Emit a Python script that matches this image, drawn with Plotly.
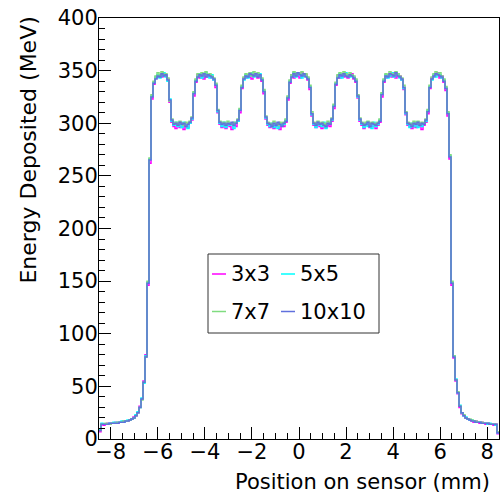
import numpy as np
import plotly.graph_objects as go

# Histogram binning: 200 bins from -8.5 to 8.5 mm
x_min, x_max, n_bins = -8.5, 8.5, 200

series_names = ["3x3", "5x5", "7x7", "10x10"]
series_colors = ["#ff00ff", "#00ffff", "#80dc80", "#6070dd"]

e_3x3 = [
    7, 14, 13, 14, 15, 14, 15, 15, 16, 15, 16, 16, 17, 17, 17, 18, 19, 21, 22, 25, 31, 38, 55, 80, 146, 262, 323, 337,
    343, 344, 346, 344, 347, 345, 342,
    320, 301,
    297, 295, 299, 296, 300, 294, 298, 296, 300, 303,
    326, 339,
    346, 343, 345, 342, 347, 344, 346, 343, 341,
    334, 310,
    299, 296, 298, 295, 299, 297, 294, 298, 297, 302,
    310, 333, 343,
    343, 346, 344, 342, 347, 345, 343, 345, 340,
    328, 304,
    298, 296, 299, 295, 297, 299, 294, 298, 297, 301,
    322, 338,
    346, 343, 347, 345, 343, 348, 345, 346, 341,
    332, 307,
    298, 296, 299, 297, 295, 299, 296, 298, 297, 302,
    314, 336,
    345, 343, 347, 344, 346, 343, 345, 347, 342, 339,
    324, 302,
    298, 295, 298, 299, 296, 297, 300, 295, 298, 301,
    325, 339,
    343, 346, 345, 344, 348, 343, 346, 345, 341,
    332, 308,
    298, 297, 295, 298, 296, 299, 297, 294, 298, 301,
    309, 333, 343,
    344, 346, 348, 343, 345,
    339, 331, 307, 266, 146, 77, 55, 43, 30, 24, 22, 20, 19, 18, 17, 16, 17, 16, 15, 16, 15, 14, 15, 14, 14, 13, 14, 5,
]

e_5x5 = [
    9, 15, 14, 14, 14, 15, 15, 16, 15, 16, 16, 17, 16, 17, 18, 18, 19, 20, 23, 26, 30, 39, 53, 79, 149, 266, 326, 339,
    344, 346, 343, 345, 348, 344, 340,
    323, 302,
    298, 301, 297, 299, 296, 301, 298, 295, 300, 304,
    329, 341,
    345, 347, 343, 346, 348, 345, 343, 346, 341,
    337, 311,
    300, 297, 301, 296, 299, 298, 300, 295, 301, 302,
    313, 335, 341,
    346, 343, 345, 348, 344, 346, 345, 347, 342,
    331, 305,
    299, 297, 300, 296, 299, 295, 300, 298, 299, 303,
    325, 340,
    345, 348, 344, 346, 347, 343, 346, 345, 343,
    335, 308,
    299, 296, 300, 298, 297, 301, 295, 299, 300, 303,
    317, 338,
    344, 347, 343, 346, 348, 345, 344, 346, 344, 341,
    325, 303,
    299, 296, 300, 297, 299, 295, 301, 297, 299, 303,
    328, 341,
    346, 343, 345, 348, 344, 346, 347, 343, 341,
    333, 309,
    299, 296, 300, 297, 301, 296, 299, 297, 300, 302,
    312, 335, 341,
    346, 344, 347, 346, 343,
    341, 334, 310, 269, 149, 79, 57, 44, 32, 25, 22, 21, 19, 18, 18, 17, 16, 16, 16, 15, 15, 15, 14, 15, 14, 14, 13, 6,
]

e_7x7 = [
    8, 14, 14, 15, 14, 14, 15, 15, 15, 16, 16, 16, 17, 17, 17, 18, 19, 20, 22, 25, 30, 37, 54, 78, 150, 267, 327, 340,
    345, 348, 345, 349, 346, 347, 343,
    321, 304,
    300, 301, 299, 302, 300, 298, 301, 300, 302, 306,
    330, 342,
    347, 345, 348, 346, 349, 346, 347, 345, 343,
    338, 313,
    302, 300, 301, 299, 302, 300, 299, 301, 300, 304,
    314, 336, 344,
    347, 346, 348, 345, 349, 346, 348, 345, 343,
    332, 307,
    301, 300, 299, 302, 300, 298, 301, 300, 301, 304,
    326, 341,
    346, 349, 346, 348, 347, 349, 346, 347, 344,
    336, 311,
    301, 300, 302, 299, 301, 300, 299, 302, 300, 305,
    318, 339,
    346, 348, 346, 349, 347, 345, 348, 346, 345, 342,
    327, 305,
    301, 299, 301, 302, 299, 301, 300, 299, 301, 304,
    329, 342,
    347, 346, 349, 347, 346, 349, 347, 345, 343,
    336, 311,
    301, 300, 299, 302, 300, 302, 299, 301, 300, 304,
    313, 336, 344,
    347, 349, 346, 348, 345,
    342, 335, 311, 270, 150, 79, 56, 45, 31, 25, 23, 20, 19, 19, 18, 17, 17, 16, 16, 16, 15, 15, 15, 14, 14, 14, 14, 7,
]

e_10x10 = [
    8, 14, 14, 14, 14, 15, 15, 15, 15, 15, 16, 16, 16, 17, 17, 18, 19, 20, 22, 25, 30, 38, 54, 78, 148, 265, 325, 338,
    342, 345, 344, 347, 345, 346, 341,
    322, 303,
    299, 300, 298, 301, 299, 300, 297, 299, 301, 305,
    328, 340,
    344, 346, 345, 347, 344, 346, 345, 344, 342,
    336, 312,
    301, 299, 300, 298, 300, 299, 301, 298, 300, 303,
    312, 334, 342,
    345, 344, 347, 346, 345, 347, 344, 346, 341,
    330, 306,
    300, 299, 297, 300, 298, 301, 299, 297, 300, 302,
    324, 339,
    344, 347, 345, 348, 346, 345, 347, 344, 342,
    334, 309,
    300, 298, 301, 299, 300, 298, 297, 300, 299, 304,
    316, 337,
    343, 346, 345, 347, 345, 344, 346, 345, 343, 340,
    326, 304,
    300, 298, 299, 301, 297, 300, 299, 298, 300, 302,
    327, 340,
    345, 344, 347, 346, 345, 348, 345, 344, 342,
    334, 310,
    300, 299, 297, 300, 299, 301, 298, 300, 299, 303,
    311, 334, 342,
    345, 347, 346, 345, 344,
    340, 333, 309, 268, 148, 78, 56, 44, 31, 25, 22, 20, 19, 18, 17, 17, 16, 16, 16, 15, 15, 15, 15, 14, 14, 14, 14, 6,
]

x_tick_vals = [-8, -6, -4, -2, 0, 2, 4, 6, 8]
y_tick_vals = [0, 50, 100, 150, 200, 250, 300, 350, 400]

all_series = [e_3x3, e_5x5, e_7x7, e_10x10]
for s in all_series:
    assert len(s) == n_bins, len(s)

bin_edges = np.linspace(x_min, x_max, n_bins + 1)

FONT = "DejaVu Sans"
fig = go.Figure()
for name, color, vals in zip(series_names, series_colors, all_series):
    y_step = list(vals) + [vals[-1]]
    fig.add_trace(go.Scatter(
        x=bin_edges, y=y_step, mode="lines", name=name,
        line=dict(color=color, width=1.5, shape="hv"),
        showlegend=False,
    ))

axis_common = dict(
    showline=True, linecolor="black", linewidth=1, mirror=True,
    ticks="inside", tickcolor="black", tickwidth=1, ticklen=12,
    showgrid=False, zeroline=False,
    tickfont=dict(family=FONT, size=21, color="black"),
)

fig.update_xaxes(
    range=[x_min, x_max], tickvals=x_tick_vals,
    minor=dict(dtick=0.5, ticklen=6, tickcolor="black", ticks="inside", showgrid=False),
    ticklabelstandoff=-6,
    **axis_common,
)
fig.update_yaxes(
    range=[0, 400], tickvals=y_tick_vals,
    minor=dict(dtick=10, ticklen=6, tickcolor="black", ticks="inside", showgrid=False),
    ticklabelstandoff=-4,
    **axis_common,
)

# Axis titles (ROOT style: right/top aligned)
annotations = [
    dict(text="Position on sensor (mm)", xref="paper", yref="paper",
         x=0.9825, y=-0.068, xanchor="right", yanchor="top", showarrow=False,
         font=dict(family=FONT, size=21, color="black")),
    dict(text="Energy Deposited (MeV)", xref="paper", yref="paper",
         x=-0.175, y=1.007, xanchor="center", yanchor="top", textangle=-90, showarrow=False,
         font=dict(family=FONT, size=22, color="black")),
]

# Legend (2 x 2 grid in a framed box)
shapes = [dict(type="rect", xref="paper", yref="paper",
               x0=(208 - 99) / 400, x1=(379 - 99) / 400,
               y0=(439 - 333) / 421, y1=(439 - 254) / 421,
               line=dict(color="#333333", width=1), fillcolor="white", layer="above")]
leg_cols = [212, 281]
leg_rows = [274, 311.5]
for i, (name, color) in enumerate(zip(series_names, series_colors)):
    cx = leg_cols[i % 2]
    ry = leg_rows[i // 2]
    yp = (439 - ry) / 421
    shapes.append(dict(type="line", xref="paper", yref="paper",
                       x0=(cx - 99) / 400, x1=(cx + 14 - 99) / 400, y0=yp, y1=yp,
                       line=dict(color=color, width=1.5), layer="above"))
    annotations.append(dict(text=name, xref="paper", yref="paper",
                            x=(cx + 17 - 99) / 400, y=yp, xanchor="left", yanchor="middle",
                            showarrow=False, font=dict(family=FONT, size=21, color="black")))

fig.update_layout(
    width=502, height=495,
    margin=dict(l=99, r=3, t=18, b=56),
    paper_bgcolor="white", plot_bgcolor="white",
    font=dict(family=FONT, size=21, color="black"),
    annotations=annotations, shapes=shapes,
    showlegend=False,
)

fig.write_html("out.html", config={"displayModeBar": False},
               post_script="document.body.style.margin='0px';")
